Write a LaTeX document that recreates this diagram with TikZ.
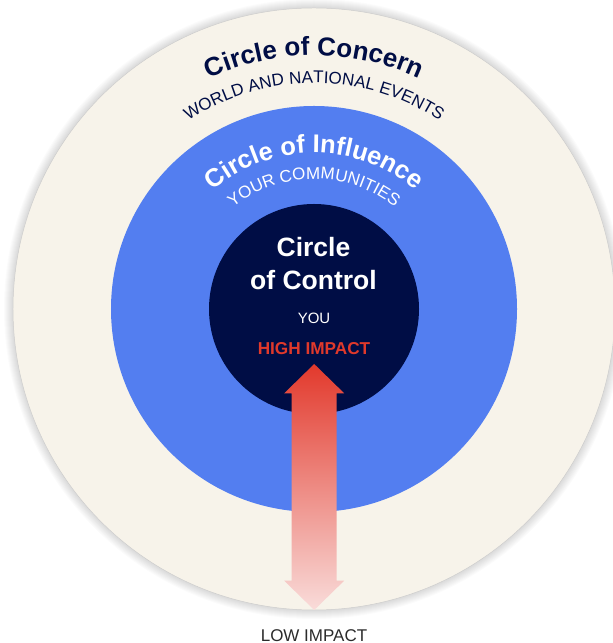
\documentclass[tikz,border=0pt]{standalone}
\usepackage{fontspec}
\setmainfont{Liberation Sans}
\usetikzlibrary{decorations.text,calc}
\definecolor{cream}{HTML}{F7F3EA}
\definecolor{ringblue}{HTML}{537EF0}
\definecolor{navy}{HTML}{000D45}
\definecolor{hired}{HTML}{E0392B}
\definecolor{arrowred}{HTML}{E2392C}
\definecolor{arrowpink}{HTML}{F9DCDA}
\definecolor{lowgray}{HTML}{2B2B2B}
\newcommand\concernfnt{\bfseries\fontsize{26bp}{30bp}\selectfont\color{navy}}
\newcommand\worldfnt{\fontsize{17bp}{20bp}\selectfont\color{navy}}
\newcommand\influfnt{\bfseries\fontsize{25.5bp}{30bp}\selectfont\color{white}}
\newcommand\yourfnt{\fontsize{17bp}{20bp}\selectfont\color{white}}
\tikzset{
  ring/.style={circle, inner sep=0pt, outer sep=0pt},
  ctltext/.style={text=white, font=\bfseries\fontsize{26.5bp}{30bp}\selectfont, inner sep=0pt, anchor=base},
  arctext/.style={decorate, decoration={text along path, text align=center, text={#1}}}
}
\begin{document}
\begin{tikzpicture}[x=1bp,y=1bp]
\useasboundingbox (0,0) rectangle (613,643);
\coordinate (c) at (314,334);
% soft shadow around the outer circle
\foreach \k in {1,...,9} \fill[black, opacity=0.016] (c) circle ({301+\k});
\node[ring, minimum size=602bp, fill=cream, draw=black!20, line width=0.5bp] (concern) at (c) {};
\node[ring, minimum size=406bp, fill=ringblue] (influence) at (c) {};
\node[ring, minimum size=210bp, fill=navy] (control) at (c) {};
% curved titles
\path[arctext={|\concernfnt|Circle of Concern}] (c) ++(150:253.5) arc[start angle=150, end angle=30, radius=253.5];
\path[arctext={|\worldfnt|WORLD AND NATIONAL EVENTS}] (c) ++(150:226) arc[start angle=150, end angle=30, radius=226];
\path[arctext={|\influfnt|Circle of Influence}] (c) ++(150:156) arc[start angle=150, end angle=30, radius=156];
\path[arctext={|\yourfnt|YOUR COMMUNITIES}] (c) ++(150:130) arc[start angle=150, end angle=30, radius=130];
% inner texts
\node[ctltext] (ctla) at (313.5,386.3) {Circle};
\node[ctltext] (ctlb) at (313.5,353) {of Control};
\node[text=white, font=\fontsize{15bp}{18bp}\selectfont, inner sep=0pt, anchor=base] (you) at (314,319.7) {YOU};
\node[text=hired, font=\bfseries\fontsize{17.2bp}{20bp}\selectfont, inner sep=0pt, anchor=base] (high) at (314,288) {HIGH IMPACT};
\node[text=lowgray, font=\fontsize{17bp}{20bp}\selectfont, inner sep=0pt, anchor=base] (low) at (314,1.5) {LOW IMPACT};
% double arrow
\coordinate (hi) at (314.2,279);
\coordinate (lo) at (314.2,33);
\shade[top color=arrowred, bottom color=arrowpink]
  (hi) -- ($(hi)+(30,-29.3)$) -- ($(hi)+(22.5,-29.3)$) -- ($(lo)+(22.5,29.3)$) -- ($(lo)+(30,29.3)$)
  -- (lo) -- ($(lo)+(-30,29.3)$) -- ($(lo)+(-22.5,29.3)$) -- ($(hi)+(-22.5,-29.3)$) -- ($(hi)+(-30,-29.3)$) -- cycle;
\end{tikzpicture}
\end{document}
